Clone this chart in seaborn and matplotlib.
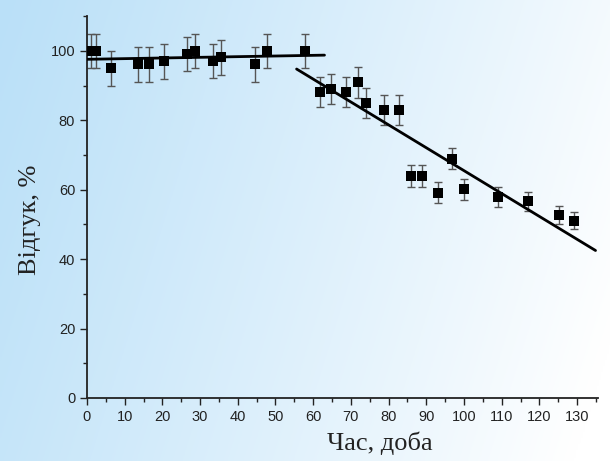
import numpy as np
import pandas as pd
import matplotlib
matplotlib.use('Agg')
import matplotlib.pyplot as plt
import seaborn as sns
from matplotlib.ticker import MultipleLocator

sns.set_style('ticks')

# виміряні точки: час (доба), відгук (%), похибка
days = [1, 2.5, 6.5, 13.5, 16.5, 20.5, 26.5, 28.6, 33.5, 35.6, 44.6, 47.7, 57.7,
        61.7, 64.6, 68.8, 71.8, 73.9, 78.9, 82.8, 85.9, 88.9, 93.0, 96.9, 100.0,
        108.9, 117.1, 125.2, 129.1]
response = [100, 100, 95, 96.2, 96.2, 97, 99.1, 100, 97.1, 98.2, 96.2, 100, 100,
            88.1, 89.0, 88.1, 91.0, 85.1, 83.1, 83.1, 64.0, 64.0, 59.2, 69.0, 60.1,
            57.8, 56.7, 52.6, 51.1]
err = [5, 5, 5, 5, 5, 5, 5, 5, 5, 5, 5, 5, 5,
       4.3, 4.3, 4.3, 4.5, 4.3, 4.3, 4.3, 3.2, 3.2, 3.0, 3.0, 3.0,
       2.9, 2.8, 2.6, 2.4]

# лінії апроксимації
fit1_x = [0, 63]
fit1_y = [97.6, 98.8]
fit2_x = [55.6, 134.9]
fit2_y = [94.8, 42.5]

df = pd.DataFrame({'day': days, 'resp': response, 'err': err})

fig = plt.figure(figsize=(6.1, 4.61), dpi=100)

# фон з градієнтом
bg = fig.add_axes([0, 0, 1, 1], zorder=-10)
xx, yy = np.meshgrid(np.linspace(0, 1, 300), np.linspace(0, 1, 230))
t = np.clip(0.85 * xx + 0.2 * yy, 0, 1) ** 1.1
c0 = np.array([186, 224, 248]) / 255
c1 = np.array([1.0, 1.0, 1.0])
img = c0[None, None, :] * (1 - t[..., None]) + c1[None, None, :] * t[..., None]
bg.imshow(img, aspect='auto', extent=[0, 1, 0, 1])
bg.axis('off')

ax = fig.add_axes([0.1426, 0.1367, 0.8374, 0.828])
ax.patch.set_alpha(0)

ax.errorbar(df['day'], df['resp'], yerr=df['err'], fmt='none', ecolor='#555555',
            elinewidth=1, capsize=2.7, capthick=1, zorder=2)
sns.scatterplot(data=df, x='day', y='resp', marker='s', s=42, color='black',
                edgecolor='black', linewidth=0, ax=ax, zorder=3)
sns.lineplot(x=fit1_x, y=fit1_y, color='black', linewidth=2, ax=ax, zorder=4)
sns.lineplot(x=fit2_x, y=fit2_y, color='black', linewidth=2, ax=ax, zorder=4)

ax.set_xlim(0, 135.5)
ax.set_ylim(0, 110)
ax.xaxis.set_major_locator(MultipleLocator(10))
ax.xaxis.set_minor_locator(MultipleLocator(5))
ax.yaxis.set_major_locator(MultipleLocator(20))
ax.yaxis.set_minor_locator(MultipleLocator(10))
sns.despine(ax=ax)
for s in ['left', 'bottom']:
    ax.spines[s].set_linewidth(1.3)
    ax.spines[s].set_color('#222222')
ax.tick_params(which='major', length=5, width=1, colors='#222222', labelsize=10.5)
ax.tick_params(which='minor', length=3, width=1, colors='#222222')
for lab in ax.get_xticklabels() + ax.get_yticklabels():
    lab.set_family(['Liberation Sans', 'DejaVu Sans'])

ax.set_xlabel('Час, доба', family=['Liberation Serif', 'DejaVu Serif'],
              fontsize=19, color='#222222')
ax.set_ylabel('Відгук, %', family=['Liberation Serif', 'DejaVu Serif'],
              fontsize=19, color='#222222')
ax.xaxis.set_label_coords(0.573, -0.088)
ax.yaxis.set_label_coords(-0.09, 0.466)

fig.savefig('out.png', dpi=100)
